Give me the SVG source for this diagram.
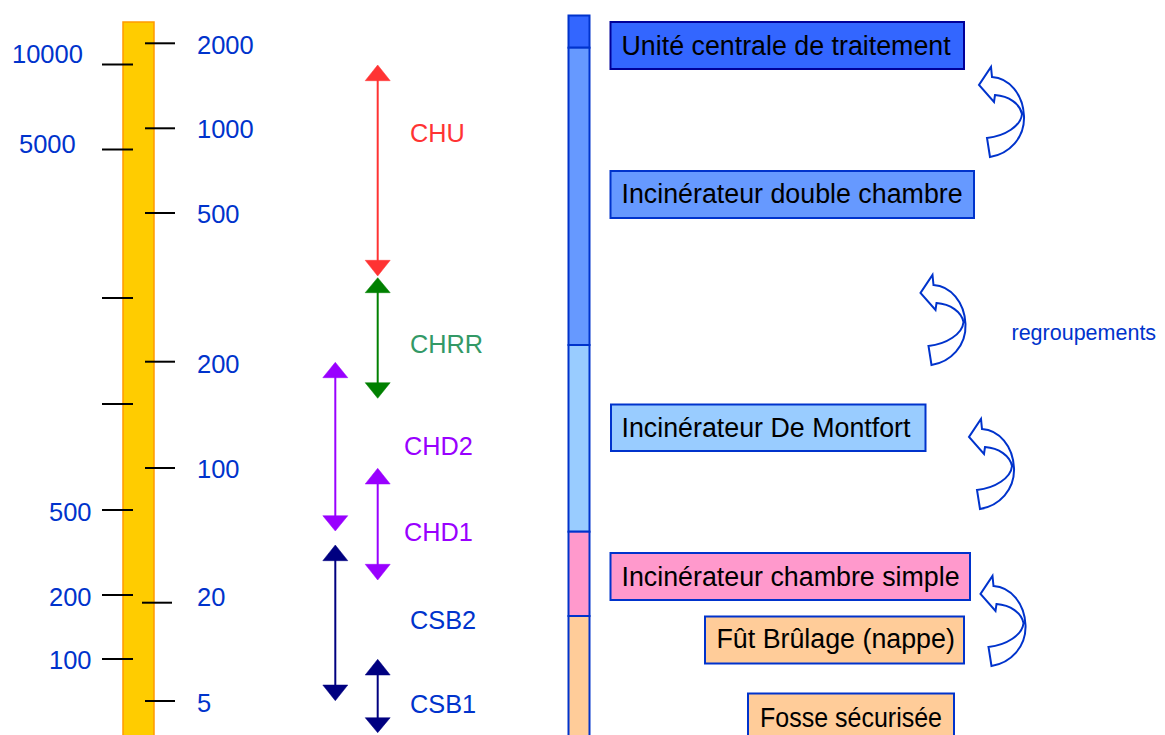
<svg xmlns="http://www.w3.org/2000/svg" width="1165" height="735" viewBox="0 0 1165 735">
<style>
text{font-family:"Liberation Sans",Arial,sans-serif}
.num{font-size:25.5px;fill:#0033CC}
.tick{stroke:#000;stroke-width:2}
.lbl{font-size:25.3px}
.box text{font-size:26.8px;fill:#000}
.seg{stroke:#0033CC;stroke-width:2}
.curv{fill:#fff;stroke:#0033CC;stroke-width:2;stroke-linejoin:miter}
</style>
<defs>
<path id="curl" d="M13,11 L12,1 L0,19 L15,36 L16,29 C30,30 41,38 43,48 C42,60 26,70 8,72 L11,91 C30,88 46,72 45,50 C44,28 30,12 13,11 Z"/>
</defs>
<rect width="1165" height="735" fill="#fff"/>

<g id="scale">
<rect x="123" y="22" width="31" height="720" fill="#FFCC00" stroke="#FF9900" stroke-width="1.5"/>
<g class="tick">
<line x1="102" y1="64.5" x2="133" y2="64.5"/>
<line x1="102" y1="149.5" x2="133" y2="149.5"/>
<line x1="102" y1="298" x2="133" y2="298"/>
<line x1="102" y1="404" x2="133" y2="404"/>
<line x1="102" y1="510" x2="133" y2="510"/>
<line x1="102" y1="595" x2="133" y2="595"/>
<line x1="102" y1="659" x2="133" y2="659"/>
<line x1="145" y1="43.3" x2="175" y2="43.3"/>
<line x1="145" y1="128.3" x2="175" y2="128.3"/>
<line x1="145" y1="213" x2="175" y2="213"/>
<line x1="145" y1="361.7" x2="175" y2="361.7"/>
<line x1="145" y1="468" x2="175" y2="468"/>
<line x1="142" y1="602.7" x2="172" y2="602.7"/>
<line x1="145" y1="701" x2="175" y2="701"/>
</g>
<text class="num" x="12" y="62.5">10000</text>
<text class="num" x="19" y="153">5000</text>
<text class="num" x="49" y="520.5">500</text>
<text class="num" x="49" y="606">200</text>
<text class="num" x="49" y="669">100</text>
<text class="num" x="197" y="54">2000</text>
<text class="num" x="197" y="138.3">1000</text>
<text class="num" x="197" y="222.7">500</text>
<text class="num" x="197" y="373.3">200</text>
<text class="num" x="197" y="478.3">100</text>
<text class="num" x="197" y="606">20</text>
<text class="num" x="197" y="711.7">5</text>
</g>

<g id="ranges">
<g id="chu" fill="#FF3333" stroke="#FF3333">
<line x1="377.7" y1="78" x2="377.7" y2="263" stroke-width="2"/>
<polygon points="377.7,65 390.2,80.7 365.2,80.7" stroke-width="0.5"/>
<polygon points="377.7,276 390.2,260.3 365.2,260.3" stroke-width="0.5"/>
<text class="lbl" x="410" y="141.7" stroke="none">CHU</text>
</g>
<g id="chrr" fill="#008000" stroke="#008000">
<line x1="377.7" y1="290" x2="377.7" y2="385" stroke-width="2"/>
<polygon points="377.7,277.7 390.2,292.7 365.2,292.7" stroke-width="0.5"/>
<polygon points="377.7,398.3 390.2,382.7 365.2,382.7" stroke-width="0.5"/>
<text class="lbl" x="410" y="353.3" stroke="none" fill="#339966">CHRR</text>
</g>
<g id="chd2" fill="#9900FF" stroke="#9900FF">
<line x1="335.3" y1="375" x2="335.3" y2="518" stroke-width="2"/>
<polygon points="335.3,362.3 347.8,377.7 322.8,377.7" stroke-width="0.5"/>
<polygon points="335.3,531 347.8,515.7 322.8,515.7" stroke-width="0.5"/>
<text class="lbl" x="404" y="455" stroke="none">CHD2</text>
</g>
<g id="chd1" fill="#9900FF" stroke="#9900FF">
<line x1="377.7" y1="481" x2="377.7" y2="567" stroke-width="2"/>
<polygon points="377.7,468.3 390.2,484 365.2,484" stroke-width="0.5"/>
<polygon points="377.7,580 390.2,564.3 365.2,564.3" stroke-width="0.5"/>
<text class="lbl" x="404" y="540.7" stroke="none">CHD1</text>
</g>
<g id="csb2" fill="#000080" stroke="#000080">
<line x1="335.3" y1="558" x2="335.3" y2="688" stroke-width="2"/>
<polygon points="335.3,545 347.8,560.7 322.8,560.7" stroke-width="0.5"/>
<polygon points="335.3,700.7 347.8,685 322.8,685" stroke-width="0.5"/>
<text class="lbl" x="410" y="629.3" stroke="none" fill="#0033CC">CSB2</text>
</g>
<g id="csb1" fill="#000080" stroke="#000080">
<line x1="377.7" y1="672" x2="377.7" y2="720" stroke-width="2"/>
<polygon points="377.7,659.3 390.2,675 365.2,675" stroke-width="0.5"/>
<polygon points="377.7,732.7 390.2,717.7 365.2,717.7" stroke-width="0.5"/>
<text class="lbl" x="410" y="712.7" stroke="none" fill="#0033CC">CSB1</text>
</g>
</g>

<g id="stackbar">
<rect class="seg" x="568.5" y="15.5" width="21" height="32.2" fill="#3366FF"/>
<rect class="seg" x="568.5" y="47.7" width="21" height="297.3" fill="#6699FF"/>
<rect class="seg" x="568.5" y="345" width="21" height="186.7" fill="#99CCFF"/>
<rect class="seg" x="568.5" y="531.7" width="21" height="84.3" fill="#FF99CC"/>
<rect class="seg" x="568.5" y="616" width="21" height="130" fill="#FFCC99"/>
</g>

<g id="box-uct" class="box">
<rect x="610.5" y="22" width="353.5" height="47" fill="#3366FF" stroke="#000099" stroke-width="2"/>
<text x="621.5" y="55">Unité centrale de traitement</text>
</g>
<g id="box-idc" class="box">
<rect x="610.5" y="171" width="363.5" height="47" fill="#6699FF" stroke="#0033CC" stroke-width="2"/>
<text x="621.5" y="203.3">Incinérateur double chambre</text>
</g>
<g id="box-idm" class="box">
<rect x="611" y="404.5" width="314.5" height="46.5" fill="#99CCFF" stroke="#0033CC" stroke-width="2"/>
<text x="621.5" y="437.3">Incinérateur De Montfort</text>
</g>
<g id="box-ics" class="box">
<rect x="610.5" y="553" width="359.5" height="47" fill="#FF99CC" stroke="#0033CC" stroke-width="2"/>
<text x="621.5" y="586">Incinérateur chambre simple</text>
</g>
<g id="box-fut" class="box">
<rect x="705" y="616.5" width="259" height="47" fill="#FFCC99" stroke="#0033CC" stroke-width="2"/>
<text x="716.5" y="648.3">Fût Brûlage (nappe)</text>
</g>
<g id="box-fosse" class="box">
<rect x="748" y="693.5" width="206" height="60" fill="#FFCC99" stroke="#0033CC" stroke-width="2"/>
<text x="760" y="726.7" textLength="182" lengthAdjust="spacingAndGlyphs">Fosse sécurisée</text>
</g>

<g id="connectors">
<use href="#curl" class="curv" transform="translate(979,66)"/>
<use href="#curl" class="curv" transform="translate(920.5,274)"/>
<use href="#curl" class="curv" transform="translate(969,418)"/>
<use href="#curl" class="curv" transform="translate(980.5,575)"/>
</g>
<text id="regroupements" x="1011.5" y="340" font-size="21.5" fill="#0033CC">regroupements</text>
</svg>
